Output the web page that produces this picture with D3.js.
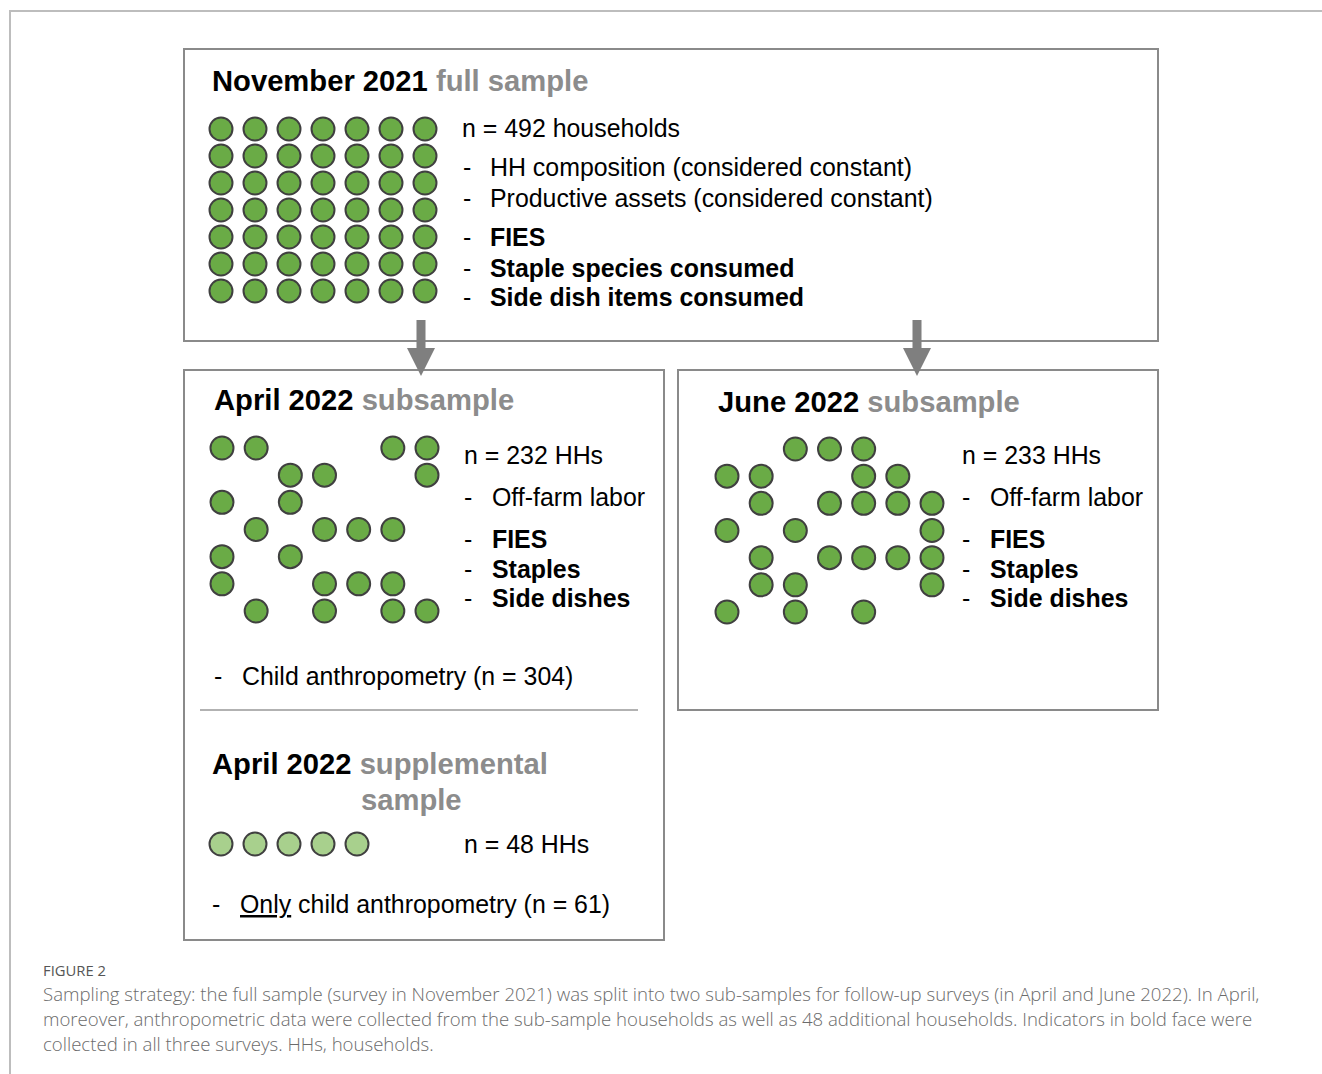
<!DOCTYPE html>
<html>
<head>
<meta charset="utf-8">
<script src="https://cdn.jsdelivr.net/npm/d3@7"></script>
<style>
  body { margin: 0; background: #fff; }
  svg text { font-family: "Liberation Sans", Arial, sans-serif; }
</style>
</head>
<body>
<div id="chart"></div>
<script>
// occupied grid columns per row (7 x 7 grid) for each sample
const fullSampleRows = [
  [0, 1, 2, 3, 4, 5, 6],
  [0, 1, 2, 3, 4, 5, 6],
  [0, 1, 2, 3, 4, 5, 6],
  [0, 1, 2, 3, 4, 5, 6],
  [0, 1, 2, 3, 4, 5, 6],
  [0, 1, 2, 3, 4, 5, 6],
  [0, 1, 2, 3, 4, 5, 6]
];
const aprilRows = [
  [0, 1, 5, 6],
  [2, 3, 6],
  [0, 2],
  [1, 3, 4, 5],
  [0, 2],
  [0, 3, 4, 5],
  [1, 3, 5, 6]
];
const juneRows = [
  [2, 3, 4],
  [0, 1, 4, 5],
  [1, 3, 4, 5, 6],
  [0, 2, 6],
  [1, 3, 4, 5, 6],
  [1, 2, 6],
  [0, 2, 4]
];
const supplementalRows = [[0, 1, 2, 3, 4]];

const novemberItems = [
  { t: "HH composition (considered constant)", bold: false },
  { t: "Productive assets (considered constant)", bold: false },
  { t: "FIES", bold: true },
  { t: "Staple species consumed", bold: true },
  { t: "Side dish items consumed", bold: true }
];
const subItems = [
  { t: "Off-farm labor", bold: false },
  { t: "FIES", bold: true },
  { t: "Staples", bold: true },
  { t: "Side dishes", bold: true }
];
const captionLines = [
  "Sampling strategy: the full sample (survey in November 2021) was split into two sub-samples for follow-up surveys (in April and June 2022). In April,",
  "moreover, anthropometric data were collected from the sub-sample households as well as 48 additional households. Indicators in bold face were",
  "collected in all three surveys. HHs, households."
];

const width = 1322, height = 1074;
const green = "#6aab46", lightGreen = "#a8d08d", stroke = "#404040";
const boxColor = "#8a8a8a", subtitle = "#8c8c8c";

const svg = d3.select("#chart").append("svg")
  .attr("width", width).attr("height", height);

// outer frame
svg.append("path")
  .attr("d", `M10,${height} V11 H${width}`)
  .attr("fill", "none").attr("stroke", "#bdbdbd").attr("stroke-width", 2);

function box(x0, y0, x1, y1) {
  svg.append("rect")
    .attr("x", x0).attr("y", y0).attr("width", x1 - x0).attr("height", y1 - y0)
    .attr("fill", "none").attr("stroke", boxColor).attr("stroke-width", 2);
}
box(184, 49, 1158, 341);
box(184, 370, 664, 940);
box(678, 370, 1158, 710);
svg.append("line")
  .attr("x1", 200).attr("x2", 638).attr("y1", 710).attr("y2", 710)
  .attr("stroke", "#999").attr("stroke-width", 1.5);

// arrows
function arrow(x) {
  svg.append("rect").attr("x", x - 4.5).attr("y", 320).attr("width", 9).attr("height", 30).attr("fill", "#7f7f7f");
  svg.append("path").attr("d", `M${x - 14},348 L${x + 14},348 L${x},376 Z`).attr("fill", "#7f7f7f");
}
arrow(421);
arrow(917);

function dots(rows, x0, x1, y0, y1, fill) {
  const x = d3.scaleLinear().domain([0, 6]).range([x0, x1]);
  const y = d3.scaleLinear().domain([0, 6]).range([y0, y1]);
  const cells = rows.flatMap((cols, r) => cols.map(c => ({ r, c })));
  svg.append("g").selectAll("circle").data(cells).join("circle")
    .attr("cx", d => x(d.c)).attr("cy", d => y(d.r)).attr("r", 11.5)
    .attr("fill", fill).attr("stroke", stroke).attr("stroke-width", 2);
}
dots(fullSampleRows, 221, 425, 129, 291, green);
dots(aprilRows, 222, 427, 448, 611, green);
dots(juneRows, 727, 932, 449, 612, green);
dots(supplementalRows, 221, 425, 844, 844, lightGreen);

function title(x, y, a, b) {
  const t = svg.append("text").attr("x", x).attr("y", y)
    .attr("font-size", 29.2).attr("font-weight", "bold");
  t.append("tspan").attr("fill", "#000").text(a + " ");
  t.append("tspan").attr("fill", subtitle).text(b);
}
function txt(x, y, s, bold) {
  return svg.append("text").attr("x", x).attr("y", y)
    .attr("font-size", 24.9).attr("font-weight", bold ? "bold" : "normal")
    .attr("fill", "#000").text(s);
}
function list(items, xd, xt, ys) {
  items.forEach((d, i) => {
    txt(xd, ys[i], "-", false);
    txt(xt, ys[i], d.t, d.bold);
  });
}

// November
title(212, 91, "November 2021", "full sample");
txt(462, 137, "n = 492 households", false);
list(novemberItems, 463, 490, [176, 207, 246, 277, 306]);

// April
title(214, 410, "April 2022", "subsample");
txt(464, 464, "n = 232 HHs", false);
list(subItems, 464, 492, [506, 548, 578, 607]);
txt(214, 685, "-", false);
txt(242, 685, "Child anthropometry (n = 304)", false);

// supplemental
title(212, 774, "April 2022", "supplemental");
svg.append("text").attr("x", 361).attr("y", 810).attr("font-size", 29.2)
  .attr("font-weight", "bold").attr("fill", subtitle).text("sample");
txt(464, 853, "n = 48 HHs", false);
txt(212, 913, "-", false);
const only = txt(240, 913, "", false);
only.append("tspan").attr("text-decoration", "underline").text("Only");
only.append("tspan").text(" child anthropometry (n = 61)");

// June
title(718, 412, "June 2022", "subsample");
txt(962, 464, "n = 233 HHs", false);
list(subItems, 962, 990, [506, 548, 578, 607]);

// caption
svg.append("text").attr("x", 43).attr("y", 976)
  .style("font-family", "'Open Sans', sans-serif").attr("font-size", 14.8)
  .attr("fill", "#555").text("FIGURE 2");
captionLines.forEach((s, i) => {
  svg.append("text").attr("x", 43).attr("y", 1001 + i * 25)
    .style("font-family", "'Open Sans', sans-serif").attr("font-size", 18.6)
    .attr("font-weight", 300).attr("fill", "#6b6b6b").text(s);
});
</script>
</body>
</html>
